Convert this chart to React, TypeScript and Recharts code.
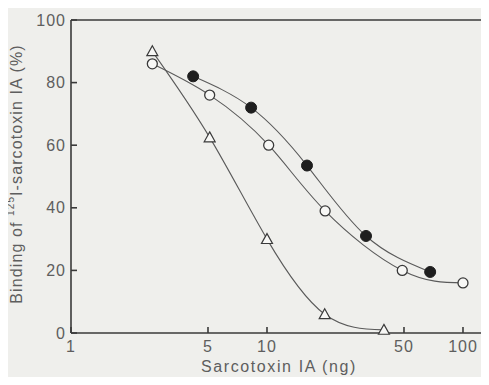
import { LineChart, Line, XAxis, YAxis, ReferenceLine } from "recharts";

// values (ng on a log axis, % binding)
const triangleDose = [2.6, 5.1, 10, 19.7, 39.5];
const triangleBinding = [90, 62.5, 30, 6, 1];

const openDose = [2.6, 5.1, 10.2, 19.8, 49, 100];
const openBinding = [86, 76, 60, 39, 20, 16];

const filledDose = [4.2, 8.3, 16, 32, 68];
const filledBinding = [82, 72, 53.5, 31, 19.5];

const xTicks = [1, 5, 10, 50, 100];
const yTicks = [0, 20, 40, 60, 80, 100];

const toPoints = (xs: number[], ys: number[]) => xs.map((x, i) => ({ dose: x, binding: ys[i] }));

const triangleData = toPoints(triangleDose, triangleBinding);
const openData = toPoints(openDose, openBinding);
const filledData = toPoints(filledDose, filledBinding);

const ink = "#3a3a3a";
const curve = "#5a5a5a";
const textColor = "#5e5e5e";
const paper = "#efefec";
const font = "'Liberation Sans', Arial, sans-serif";

function TriangleDot(props: any) {
  const { cx, cy, index } = props;
  if (cx == null || cy == null) return null;
  const s = 5.5;
  return (
    <path
      key={`tri-${index}`}
      d={`M${cx},${cy - s} L${cx + s},${cy + s * 0.8} L${cx - s},${cy + s * 0.8} Z`}
      fill="#f7f7f5"
      stroke={ink}
      strokeWidth={1.2}
    />
  );
}

function OpenDot(props: any) {
  const { cx, cy, index } = props;
  if (cx == null || cy == null) return null;
  return <circle key={`open-${index}`} cx={cx} cy={cy} r={5} fill="#f7f7f5" stroke={ink} strokeWidth={1.3} />;
}

function FilledDot(props: any) {
  const { cx, cy, index } = props;
  if (cx == null || cy == null) return null;
  return <circle key={`fill-${index}`} cx={cx} cy={cy} r={5.5} fill="#1e1e1e" stroke="#1e1e1e" />;
}

function YTitle() {
  const x = 16;
  const y = 174;
  return (
    <text
      x={x}
      y={y}
      transform={`rotate(-90, ${x}, ${y})`}
      textAnchor="middle"
      dominantBaseline="central"
      fill={textColor}
      fontSize={16}
      fontFamily={font}
      letterSpacing={1.1}
    >
      Binding of{" "}
      <tspan fontSize={10} dy={-6}>
        125
      </tspan>
      <tspan dy={6}>I-sarcotoxin IA (%)</tspan>
    </text>
  );
}

function XTitle() {
  return (
    <text x={279} y={372} textAnchor="middle" fill={textColor} fontSize={16} fontFamily={font} letterSpacing={1.6}>
      Sarcotoxin IA (ng)
    </text>
  );
}

export default function App() {
  const tickStyle = { fill: textColor, fontSize: 16, fontFamily: font, letterSpacing: 1 };
  return (
    <div style={{ margin: -8, width: 489, height: 385, background: paper }}>
      <LineChart width={489} height={385} margin={{ top: 20, right: 5, bottom: 0, left: 0 }}>
        <XAxis
          dataKey="dose"
          type="number"
          scale="log"
          domain={[1, 128]}
          allowDataOverflow
          ticks={xTicks}
          height={52}
          stroke={ink}
          strokeWidth={1.6}
          tickSize={-6}
          tickMargin={14}
          tick={tickStyle}
          label={{ content: XTitle }}
        />
        <YAxis
          dataKey="binding"
          type="number"
          domain={[0, 100]}
          ticks={yTicks}
          width={71}
          stroke={ink}
          strokeWidth={1.6}
          tickSize={-6}
          tickMargin={11}
          tick={tickStyle}
          label={{ content: YTitle }}
        />
        <ReferenceLine y={100} stroke={ink} strokeWidth={1.6} />
        <ReferenceLine x={128} stroke={ink} strokeWidth={1.6} />
        <Line
          data={triangleData}
          dataKey="binding"
          type="natural"
          stroke={curve}
          strokeWidth={1.1}
          dot={TriangleDot}
          activeDot={false}
          isAnimationActive={false}
        />
        <Line
          data={openData}
          dataKey="binding"
          type="natural"
          stroke={curve}
          strokeWidth={1.1}
          dot={OpenDot}
          activeDot={false}
          isAnimationActive={false}
        />
        <Line
          data={filledData}
          dataKey="binding"
          type="natural"
          stroke={curve}
          strokeWidth={1.1}
          dot={FilledDot}
          activeDot={false}
          isAnimationActive={false}
        />
      </LineChart>
    </div>
  );
}
